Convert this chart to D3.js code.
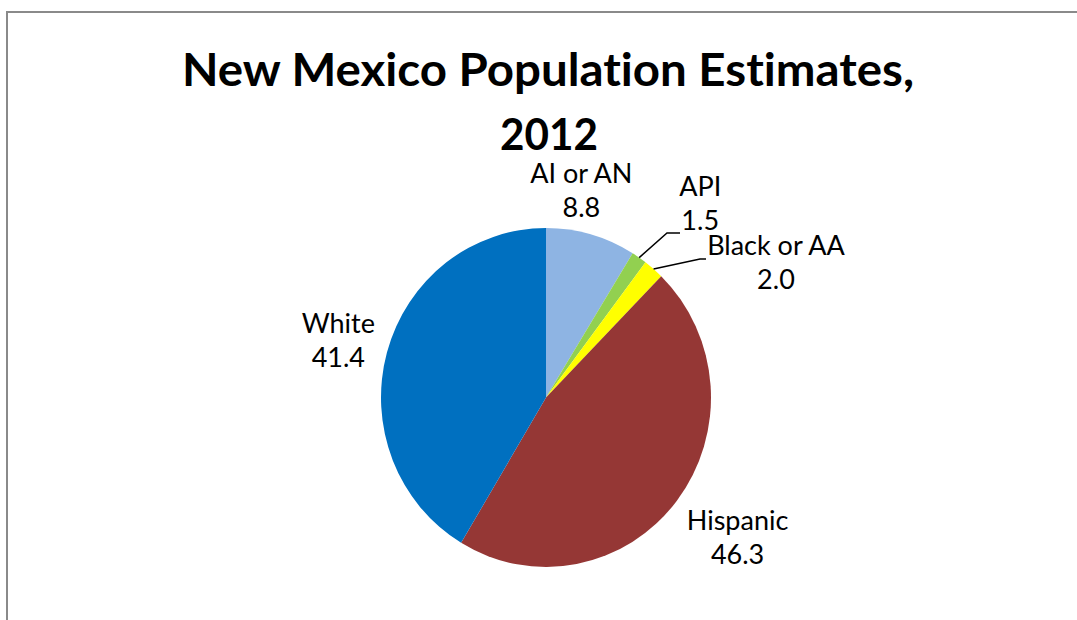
<!DOCTYPE html>
<html>
<head>
<meta charset="utf-8">
<script src="https://cdn.jsdelivr.net/npm/d3@7"></script>
<style>
  body { margin: 0; background: #fff; }
  svg { display: block; font-family: Lato, "Open Sans", sans-serif; font-variant-ligatures: none; }
</style>
</head>
<body>
<svg id="chart" width="1077" height="620"></svg>
<script>
// 데이터
const categories = ["AI or AN", "API", "Black or AA", "Hispanic", "White"];
const values = [8.8, 1.5, 2.0, 46.3, 41.4];
const colors = ["#8EB4E3", "#92D050", "#FFFF00", "#953735", "#0070C0"];
const titleLines = ["New Mexico Population Estimates,", "2012"];

const svg = d3.select("#chart");
const width = 1077, height = 620;

// 테두리
svg.append("rect")
    .attr("x", 7).attr("y", 12)
    .attr("width", width + 20).attr("height", height + 20)
    .style("fill", "none")
    .style("stroke", "#8a8a8a")
    .style("stroke-width", 2);

// 제목
svg.append("text")
    .attr("x", 548).attr("y", 86)
    .attr("text-anchor", "middle")
    .attr("textLength", 732)
    .attr("lengthAdjust", "spacingAndGlyphs")
    .style("font-size", "46px")
    .style("font-weight", "bold")
    .text(titleLines[0]);
svg.append("text")
    .attr("x", 549).attr("y", 150)
    .attr("text-anchor", "middle")
    .attr("textLength", 98)
    .attr("lengthAdjust", "spacingAndGlyphs")
    .style("font-size", "44px")
    .style("font-weight", "bold")
    .text(titleLines[1]);

// 파이
const cx = 546, cy = 397.5, R = 165, sy = 169.5 / 165;
const pie = d3.pie().sort(null).value(d => d);
const arcs = pie(values);
const arc = d3.arc().innerRadius(0).outerRadius(R);

const g = svg.append("g")
    .attr("transform", `translate(${cx},${cy}) scale(1,${sy})`);
g.selectAll("path.slice")
    .data(arcs)
    .join("path")
    .attr("class", "slice")
    .attr("d", arc)
    .style("fill", (d, i) => colors[i]);

// 각도 -> 화면 좌표 (타원 보정)
const polar = (angle, r) => [cx + Math.sin(angle) * r, cy - Math.cos(angle) * r * sy];
const mid = d => (d.startAngle + d.endAngle) / 2;

// 라벨 배치: 각도 보정(도), 반지름 배율, 지시선 여부
const labelLayout = [
    { da: -5.8, k: 1.23, leader: false },
    { da: 5.1, k: 1.47, leader: true },
    { da: 19.9, k: 1.60, leader: true },
    { da: -1.9, k: 1.43, leader: false },
    { da: -1.0, k: 1.30, leader: false }
];

const labels = svg.append("g").style("font-size", "27px").style("fill", "#000");
arcs.forEach((d, i) => {
    const L = labelLayout[i];
    const a = mid(d) + L.da * Math.PI / 180;
    const [x, y] = polar(a, R * L.k);
    const t = labels.append("text").attr("text-anchor", "middle");
    t.append("tspan").attr("x", x).attr("y", y - 9).text(categories[i]);
    t.append("tspan").attr("x", x).attr("y", y + 25).text(values[i].toFixed(1));
});

// 지시선
const leaderEnds = { 1: [[667, 233], [680, 233]], 2: [[700, 259], [706, 259]] };
arcs.forEach((d, i) => {
    if (!labelLayout[i].leader) return;
    const start = polar(mid(d), R);
    const pts = [start, ...leaderEnds[i]];
    svg.append("polyline")
        .attr("points", pts.map(p => p.join(",")).join(" "))
        .style("fill", "none")
        .style("stroke", "#000")
        .style("stroke-width", 1.5);
});
</script>
</body>
</html>
